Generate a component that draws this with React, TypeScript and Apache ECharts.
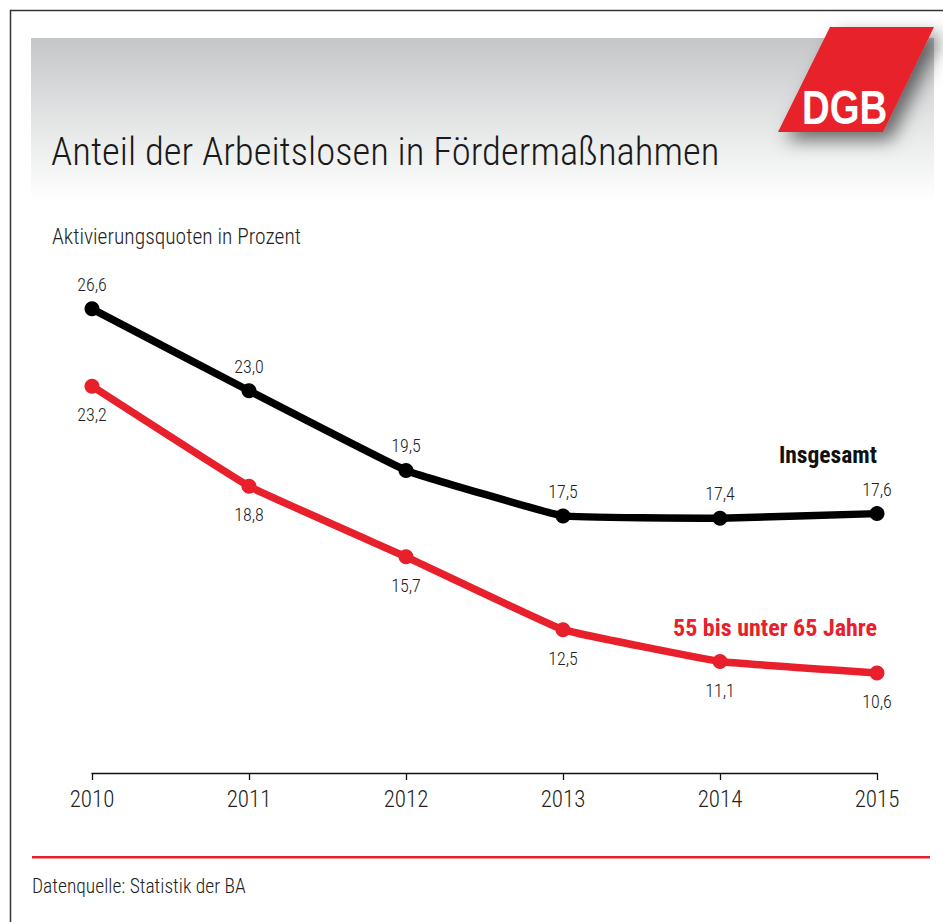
import React, { useEffect, useRef } from "react";
import * as echarts from "echarts";

const years = ["2010", "2011", "2012", "2013", "2014", "2015"];
const insgesamt = [26.6, 23.0, 19.5, 17.5, 17.4, 17.6];
const aeltere = [23.2, 18.8, 15.7, 12.5, 11.1, 10.6];

const titleText = "Anteil der Arbeitslosen in Fördermaßnahmen";
const subtitleText = "Aktivierungsquoten in Prozent";
const sourceText = "Datenquelle: Statistik der BA";
const seriesNames = ["Insgesamt", "55 bis unter 65 Jahre"];

const RED = "#e8202c";
const FONT = "'Roboto Condensed', 'DejaVu Sans Condensed', sans-serif";

export default function App() {
  const ref = useRef<HTMLDivElement>(null);
  useEffect(() => {
    if (!ref.current) return;
    const chart = echarts.init(ref.current, null, { renderer: "svg" });
    const fmt = (p: any) => Number(p.value).toFixed(1).replace(".", ",");
    chart.setOption({
      animation: false,
      backgroundColor: "#ffffff",
      grid: { left: 92, right: 943 - 877, top: 277, height: 496, containLabel: false },
      xAxis: {
        type: "category",
        data: years,
        boundaryGap: false,
        axisLine: { show: true, lineStyle: { color: "#111", width: 1.3 } },
        axisTick: { show: true, length: 7, inside: false, lineStyle: { color: "#111", width: 1.3 } },
        axisLabel: { color: "#222", fontSize: 23, fontWeight: 300, fontFamily: FONT, margin: 15 },
        splitLine: { show: false },
      },
      yAxis: {
        type: "value",
        min: 6.2,
        max: 28,
        show: false,
        splitLine: { show: false },
      },
      series: [
        {
          name: seriesNames[0],
          type: "line",
          data: insgesamt,
          smooth: 0.08,
          symbol: "circle",
          symbolSize: 15,
          lineStyle: { color: "#000", width: 7.5 },
          itemStyle: { color: "#000" },
          label: {
            show: true,
            position: "top",
            distance: 8,
            formatter: fmt,
            color: "#222",
            fontSize: 18,
            fontWeight: 300,
            fontFamily: FONT,
          },
          z: 3,
        },
        {
          name: seriesNames[1],
          type: "line",
          data: aeltere,
          smooth: 0.08,
          symbol: "circle",
          symbolSize: 15,
          lineStyle: { color: RED, width: 7.5 },
          itemStyle: { color: RED },
          label: {
            show: true,
            position: "bottom",
            distance: 12,
            formatter: fmt,
            color: "#222",
            fontSize: 18,
            fontWeight: 300,
            fontFamily: FONT,
          },
          z: 3,
        },
      ],
      graphic: [
        {
          type: "rect",
          shape: { x: 10.5, y: 10.5, width: 1000, height: 1000 },
          style: { fill: "none", stroke: "#333", lineWidth: 1.5 },
          z: -10,
          silent: true,
        },
        {
          type: "rect",
          shape: { x: 31, y: 38, width: 903, height: 164 },
          style: {
            fill: new echarts.graphic.LinearGradient(0, 0, 0, 1, [
              { offset: 0, color: "#c5c6c8" },
              { offset: 0.6, color: "#e9eaea" },
              { offset: 1, color: "#ffffff" },
            ]),
          },
          z: -9,
          silent: true,
        },
        {
          type: "polygon",
          shape: { points: [[830, 27], [934, 27], [883, 132], [778, 132]] },
          style: {
            fill: RED,
            shadowColor: "rgba(0,0,0,0.55)",
            shadowBlur: 18,
            shadowOffsetX: 8,
            shadowOffsetY: 8,
          },
          z: 5,
        },
        {
          type: "text",
          x: 802,
          y: 131,
          scaleX: 0.8,
          style: {
            text: "DGB",
            fill: "#ffffff",
            fontSize: 48,
            fontWeight: "bold",
            fontFamily: "'Liberation Sans', Arial, sans-serif",
            verticalAlign: "bottom",
          },
          z: 6,
        },
        {
          type: "text",
          x: 51,
          y: 151,
          style: {
            text: titleText,
            fill: "#1a1a1a",
            fontSize: 38.7,
            fontWeight: 300,
            fontFamily: FONT,
            verticalAlign: "middle",
          },
          z: 5,
        },
        {
          type: "text",
          x: 52,
          y: 236,
          style: {
            text: subtitleText,
            fill: "#222",
            fontSize: 21.5,
            fontWeight: 300,
            fontFamily: FONT,
            verticalAlign: "middle",
          },
        },
        {
          type: "text",
          x: 877,
          y: 455,
          style: {
            text: seriesNames[0],
            fill: "#111",
            fontSize: 23.5,
            fontWeight: "bold",
            fontFamily: FONT,
            align: "right",
            verticalAlign: "middle",
          },
        },
        {
          type: "text",
          x: 877,
          y: 628,
          style: {
            text: seriesNames[1],
            fill: RED,
            fontSize: 24,
            fontWeight: "bold",
            fontFamily: FONT,
            align: "right",
            verticalAlign: "middle",
          },
        },
        {
          type: "rect",
          shape: { x: 32, y: 856, width: 898, height: 2.5 },
          style: { fill: RED },
        },
        {
          type: "text",
          x: 32,
          y: 886,
          style: {
            text: sourceText,
            fill: "#222",
            fontSize: 19.5,
            fontWeight: 300,
            fontFamily: FONT,
            verticalAlign: "middle",
          },
        },
      ],
    });
    return () => chart.dispose();
  }, []);
  return (
    <div
      ref={ref}
      style={{ position: "absolute", left: 0, top: 0, width: 943, height: 922 }}
    />
  );
}
